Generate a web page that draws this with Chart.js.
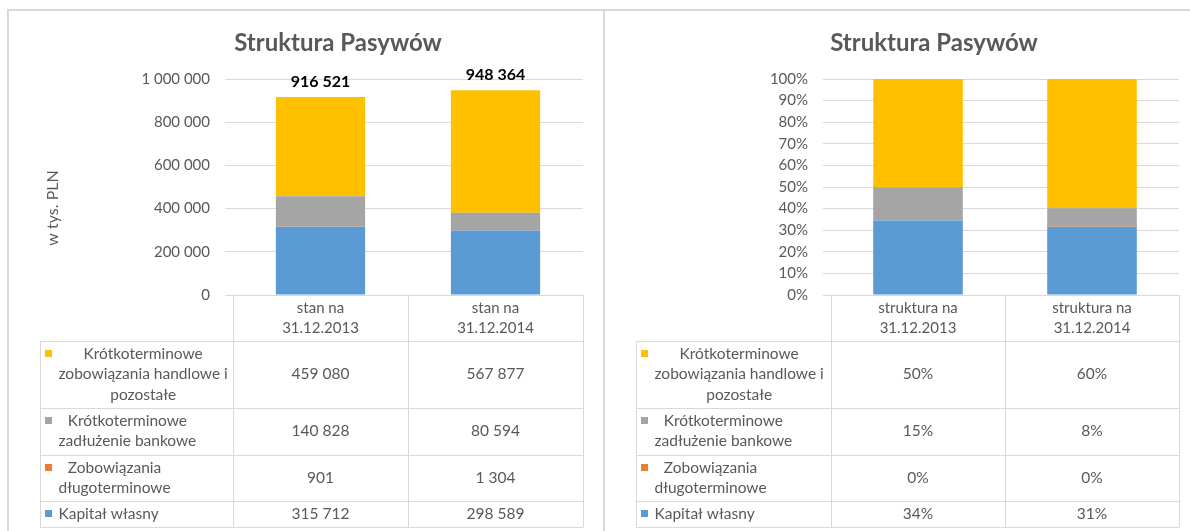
<!DOCTYPE html>
<html lang="pl">
<head>
<meta charset="utf-8">
<title>Struktura Pasywów</title>
<script src="https://cdn.jsdelivr.net/npm/chart.js@4.4.1/dist/chart.umd.min.js"></script>
<style>
    body { margin: 0; background: #fff; }
    #page { position: relative; width: 1190px; height: 531px; overflow: hidden; }
    .frame { position: absolute; background: #d9d9d9; }
    canvas { position: absolute; top: 0; }
</style>
</head>
<body>
<div id="page">
    <div class="frame" style="left:7px; top:9px; width:1183px; height:2px"></div>
    <div class="frame" style="left:7px; top:9px; width:2px; height:522px"></div>
    <div class="frame" style="left:603px; top:9px; width:2px; height:522px"></div>
    <canvas id="valueChart" width="603" height="531" style="left:0"></canvas>
    <canvas id="shareChart" width="584" height="531" style="left:606px"></canvas>
</div>
<script>
// Categories (x axis / table header)
const valueCategories = [['stan na', '31.12.2013'], ['stan na', '31.12.2014']];
const shareCategories = [['struktura na', '31.12.2013'], ['struktura na', '31.12.2014']];

// Series, bottom of the stack first
const seriesLabels = [
    ['Kapitał własny'],
    ['Zobowiązania', 'długoterminowe'],
    ['Krótkoterminowe', 'zadłużenie bankowe'],
    ['Krótkoterminowe', 'zobowiązania handlowe i', 'pozostałe']
];
const seriesColors = ['#5b9bd5', '#ed7d31', '#a5a5a5', '#ffc000'];

// w tys. PLN
const kapitalWlasny = [315712, 298589];
const zobowiazaniaDlugoterminowe = [901, 1304];
const zadluzenieBankowe = [140828, 80594];
const zobowiazaniaKrotkoterminowe = [459080, 567877];
const totals = [916521, 948364];

// shares in %
const kapitalWlasnyShare = [34.44, 31.49];
const zobowiazaniaDlugoterminoweShare = [0.10, 0.14];
const zadluzenieBankoweShare = [15.37, 8.49];
const zobowiazaniaKrotkoterminoweShare = [50.09, 59.88];

// y axis ticks
const valueAxis = { min: 0, max: 1000000, step: 200000 };
const shareAxis = { min: 0, max: 100, step: 10 };

const TEXT = '#595959';
const LINE = '#d9d9d9';
Chart.defaults.font.family = 'Lato, "Open Sans", sans-serif';
Chart.defaults.color = TEXT;

function spaced(v) {
    return String(Math.round(v)).replace(/\B(?=(\d{3})+(?!\d))/g, ' ');
}

// Draws the data table under the plot, the axis title and the total labels
const dataTablePlugin = {
    id: 'dataTable',
    afterDatasetsDraw(chart, args, opts) {
        if (!opts.showTotals) return;
        const { ctx } = chart;
        const x = chart.scales.x, y = chart.scales.y;
        ctx.save();
        ctx.font = 'bold 16px Lato';
        ctx.fillStyle = '#000';
        ctx.textAlign = 'center';
        ctx.textBaseline = 'middle';
        totals.forEach((t, i) => {
            ctx.fillText(spaced(t), x.getPixelForValue(i), y.getPixelForValue(t) - 15);
        });
        ctx.restore();
    },
    afterDraw(chart, args, opts) {
        const { ctx, chartArea } = chart;
        const xScale = chart.scales.x;
        const n = chart.data.labels.length;
        const colW = chartArea.width / n;
        const left = chartArea.left - opts.labelWidth;
        const right = chartArea.right;
        const top = xScale.top;
        const lineH = 20.3;
        const px = v => Math.round(v) + 0.5;

        ctx.save();
        ctx.strokeStyle = LINE;
        ctx.lineWidth = 1;
        ctx.font = '15.5px Lato';
        ctx.textBaseline = 'middle';

        let y = top + opts.headerHeight;
        const rowTop = y;
        const rows = chart.data.datasets.map((ds, i) => ({ ds, i })).reverse();
        ctx.beginPath();
        rows.forEach(({ ds }) => {
            const lines = ds.rowLabel;
            const h = lines.length * lineH + 6;
            ctx.moveTo(left, px(y)); ctx.lineTo(right, px(y));

            // legend key + wrapped label
            const firstLine = y + (h - lines.length * lineH) / 2 + lineH / 2;
            ctx.fillStyle = ds.backgroundColor;
            ctx.fillRect(left + 5, Math.round(firstLine - 4), 7, 7);
            const blockW = Math.max(...lines.map(l => ctx.measureText(l).width));
            ctx.fillStyle = TEXT;
            ctx.textAlign = 'center';
            lines.forEach((l, k) => {
                ctx.fillText(l, left + 18.5 + blockW / 2, firstLine + k * lineH);
            });

            // values
            ds.data.forEach((v, c) => {
                const txt = opts.percent ? Math.round(v) + '%' : spaced(v);
                ctx.fillText(txt, xScale.getPixelForValue(c), y + h / 2);
            });
            y += h;
        });
        ctx.moveTo(left, px(y)); ctx.lineTo(right, px(y));
        ctx.moveTo(px(left), rowTop); ctx.lineTo(px(left), y);
        for (let c = 0; c <= n; c++) {
            const xb = px(chartArea.left + c * colW);
            ctx.moveTo(xb, top); ctx.lineTo(xb, y);
        }
        ctx.stroke();

        if (opts.axisTitle) {
            ctx.translate(opts.axisTitleX, opts.axisTitleY);
            ctx.rotate(-Math.PI / 2);
            ctx.font = '16px Lato';
            ctx.fillStyle = TEXT;
            ctx.textAlign = 'center';
            ctx.fillText(opts.axisTitle, 0, 0);
        }
        ctx.restore();
    }
};

function makeDatasets(series, barPct) {
    return series.map((data, i) => ({
        label: seriesLabels[i].join(' '),
        rowLabel: seriesLabels[i],
        data: data,
        backgroundColor: seriesColors[i],
        borderWidth: 0,
        categoryPercentage: 1,
        barPercentage: barPct
    }));
}

function makeChart(id, cfg) {
    return new Chart(document.getElementById(id), {
        type: 'bar',
        data: {
            labels: cfg.labels,
            datasets: makeDatasets(cfg.series, cfg.barPct)
        },
        plugins: [dataTablePlugin],
        options: {
            responsive: false,
            animation: false,
            devicePixelRatio: 1,
            layout: { padding: cfg.padding },
            plugins: {
                legend: { display: false },
                tooltip: { enabled: false },
                title: {
                    display: true,
                    text: 'Struktura Pasywów',
                    color: TEXT,
                    font: { size: 24, weight: 'bold' },
                    padding: { top: 28.6, bottom: 21.6 }
                },
                dataTable: cfg.table
            },
            scales: {
                x: {
                    stacked: true,
                    grid: { drawOnChartArea: false, drawTicks: false },
                    border: { display: true, color: LINE },
                    ticks: {
                        color: TEXT,
                        font: { size: 15, lineHeight: 1.333 },
                        padding: 3,
                        maxRotation: 0,
                        autoSkip: false
                    },
                    afterFit: s => { s.height = 233; }
                },
                y: {
                    stacked: true,
                    min: cfg.axis.min,
                    max: cfg.axis.max,
                    grid: { color: LINE },
                    border: { display: false },
                    ticks: {
                        stepSize: cfg.axis.step,
                        color: TEXT,
                        font: { size: 15 },
                        padding: 15,
                        callback: cfg.tick
                    },
                    afterFit: s => { s.width = cfg.yWidth; }
                }
            }
        }
    });
}

makeChart('valueChart', {
    labels: valueCategories,
    series: [kapitalWlasny, zobowiazaniaDlugoterminowe, zadluzenieBankowe, zobowiazaniaKrotkoterminowe],
    barPct: 0.51,
    padding: { left: 93, right: 20, top: 0, bottom: 3 },
    yWidth: 140,
    axis: valueAxis,
    tick: v => spaced(v),
    table: { labelWidth: 193, headerHeight: 46, percent: false, showTotals: true,
             axisTitle: 'w tys. PLN', axisTitleX: 53, axisTitleY: 208 }
});

makeChart('shareChart', {
    labels: shareCategories,
    series: [kapitalWlasnyShare, zobowiazaniaDlugoterminoweShare, zadluzenieBankoweShare, zobowiazaniaKrotkoterminoweShare],
    barPct: 0.515,
    padding: { left: 83, right: 11, top: 0, bottom: 3 },
    yWidth: 142,
    axis: shareAxis,
    tick: v => v + '%',
    table: { labelWidth: 195, headerHeight: 46, percent: true, showTotals: false }
});
</script>
</body>
</html>
